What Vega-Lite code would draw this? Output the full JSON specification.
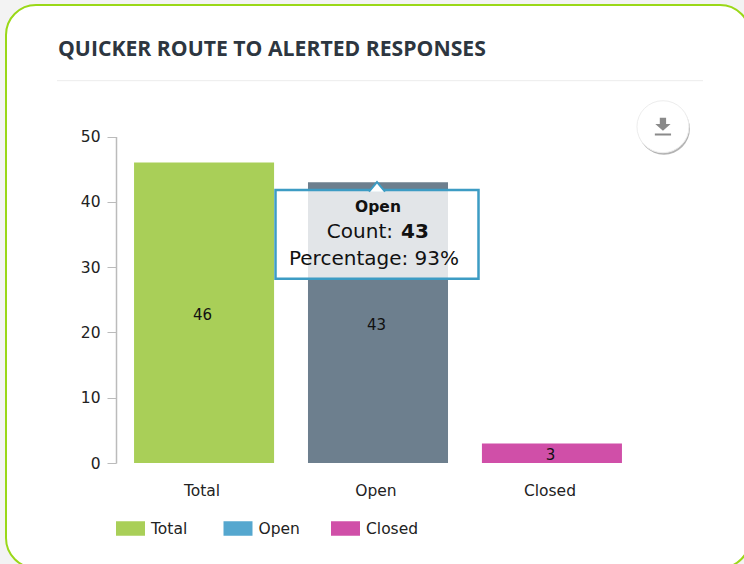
{
"$schema":"https://vega.github.io/schema/vega-lite/v6.json",
"width":744,"height":563,
"autosize":{"type":"none"},
"padding":{"left":6,"top":5,"right":-6,"bottom":-4},
"background":"#f3f3f3",
"view":{"fill":"#ffffff","stroke":"#9ad818","strokeWidth":2,"cornerRadius":30},
"title":{"text":"QUICKER ROUTE TO ALERTED RESPONSES","anchor":"start","frame":"group","font":"Open Sans","fontSize":21.2,"fontWeight":"bold","color":"#2d3640","offset":-55,"dx":52},
"datasets":{
"bars":[{"category":"Total","count":46},{"category":"Open","count":43},{"category":"Closed","count":3}],
"tooltipBox":[{"category":"Open","low":28.2,"high":41.8}],
"tooltipArrow":[{"category":"Open","value":41.8}],
"tooltipTitle":[{"category":"Open","value":39.15,"label":"Open"}],
"tooltipKey":[{"category":"Open","value":35.4,"label":"Count:"}],
"tooltipCount":[{"category":"Open","value":35.4,"label":"43"}],
"tooltipPct":[{"category":"Open","value":31.25,"label":"Percentage: 93%"}],
"separator":[{"from":0,"to":1,"value":58.55}],
"buttonShadow":[{"pos":0.9395,"value":51.2}],
"button":[{"pos":0.938,"value":51.5}]
},
"layer":[
{"data":{"name":"bars"},
 "layer":[
 {"mark":{"type":"bar"},
  "encoding":{
   "x":{"field":"category","type":"nominal","sort":null,
     "scale":{"domain":["Total","Open","Closed"],"range":[111,633],"paddingInner":0.195,"paddingOuter":0.098},
     "axis":{"title":null,"labelAngle":0,"domain":false,"ticks":false,"offset":-105,"labelPadding":20,"labelOffset":-2,"labelFont":"DejaVu Sans","labelFontSize":15.5,"labelColor":"#222222"}},
   "y":{"field":"count","type":"quantitative",
     "scale":{"domain":[0,50],"range":[458,131.5],"nice":false},
     "axis":{"title":null,"grid":false,"values":[0,10,20,30,40,50],"offset":-110,"tickSize":9,"domainColor":"#bbbbbb","tickColor":"#bbbbbb","domainWidth":1.5,"labelFont":"DejaVu Sans","labelFontSize":15.5,"labelColor":"#222222","labelPadding":7}},
   "color":{"condition":{"test":"datum.category==='Open'","value":"#6d7f8e"},
     "field":"category","type":"nominal",
     "scale":{"domain":["Total","Open","Closed"],"range":["#a9cf58","#55a7cf","#d04fa8"]},
     "legend":{"title":null,"orient":"none","legendX":110,"legendY":509,"direction":"horizontal","columns":3,"gridAlign":"all","columnPadding":19.5,"symbolType":"M-1,-0.5H1V0.5H-1Z","symbolSize":841,"symbolStrokeWidth":0,"labelFont":"DejaVu Sans","labelFontSize":15.5,"labelColor":"#222222","labelOffset":6}}
  }},
 {"transform":[{"calculate":"datum.count/2","as":"mid"}],
  "mark":{"type":"text","font":"DejaVu Sans","fontSize":15,"color":"#111111","dx":-1.5,"dy":2},
  "encoding":{
   "x":{"field":"category","type":"nominal","sort":null},
   "y":{"field":"mid","type":"quantitative"},
   "text":{"field":"count","type":"quantitative"}
  }},
 {"data":{"name":"tooltipBox"},
  "mark":{"type":"bar","size":203,"fill":"#ffffff","fillOpacity":0.8,"stroke":"#3d9cc4","strokeWidth":2.5,"xOffset":-1},
  "encoding":{
   "x":{"field":"category","type":"nominal","sort":null},
   "y":{"field":"low","type":"quantitative"},
   "y2":{"field":"high"}
  }},
 {"data":{"name":"tooltipArrow"},
  "mark":{"type":"point","shape":"M-1,0.2L0,-1L1,0.2","size":256,"filled":true,"fill":"#ffffff","stroke":"#3d9cc4","strokeWidth":2,"opacity":1,"xOffset":-1},
  "encoding":{
   "x":{"field":"category","type":"nominal","sort":null},
   "y":{"field":"value","type":"quantitative"}
  }},
 {"data":{"name":"tooltipTitle"},
  "mark":{"type":"text","font":"DejaVu Sans","fontSize":15.5,"fontWeight":"bold","color":"#111111"},
  "encoding":{
   "x":{"field":"category","type":"nominal","sort":null},
   "y":{"field":"value","type":"quantitative"},
   "text":{"field":"label"}
  }},
 {"data":{"name":"tooltipKey"},
  "mark":{"type":"text","font":"DejaVu Sans","fontSize":20,"align":"right","dx":15,"color":"#111111"},
  "encoding":{
   "x":{"field":"category","type":"nominal","sort":null},
   "y":{"field":"value","type":"quantitative"},
   "text":{"field":"label"}
  }},
 {"data":{"name":"tooltipCount"},
  "mark":{"type":"text","font":"DejaVu Sans","fontSize":20,"fontWeight":"bold","align":"left","dx":23,"color":"#111111"},
  "encoding":{
   "x":{"field":"category","type":"nominal","sort":null},
   "y":{"field":"value","type":"quantitative"},
   "text":{"field":"label"}
  }},
 {"data":{"name":"tooltipPct"},
  "mark":{"type":"text","font":"DejaVu Sans","fontSize":20,"dx":-4,"color":"#111111"},
  "encoding":{
   "x":{"field":"category","type":"nominal","sort":null},
   "y":{"field":"value","type":"quantitative"},
   "text":{"field":"label"}
  }}
 ]},
{"layer":[
 {"data":{"name":"separator"},
  "mark":{"type":"rule","color":"#ececec","strokeWidth":1},
  "encoding":{
   "x":{"field":"from","type":"quantitative","scale":{"domain":[0,1],"range":[51,697]},"axis":null},
   "x2":{"field":"to"},
   "y":{"field":"value","type":"quantitative"}
  }},
 {"data":{"name":"buttonShadow"},
  "mark":{"type":"point","shape":"circle","size":2704,"filled":true,"color":"#a0a0a0","opacity":0.8},
  "encoding":{
   "x":{"field":"pos","type":"quantitative"},
   "y":{"field":"value","type":"quantitative"}
  }},
 {"data":{"name":"button"},
  "mark":{"type":"point","shape":"circle","size":2704,"filled":true,"fill":"#ffffff","stroke":"#ededed","strokeWidth":1,"opacity":1},
  "encoding":{
   "x":{"field":"pos","type":"quantitative"},
   "y":{"field":"value","type":"quantitative"}
  }},
 {"data":{"name":"button"},
  "mark":{"type":"point","shape":"M-0.35,-1H0.35V-0.3H0.85L0,0.45L-0.85,-0.3H-0.35ZM-0.9,0.75H0.9V0.97H-0.9Z","size":324,"filled":true,"color":"#8a8a8a","opacity":1},
  "encoding":{
   "x":{"field":"pos","type":"quantitative"},
   "y":{"field":"value","type":"quantitative"}
  }}
]}
],
"resolve":{"scale":{"x":"independent"}},
"config":{"axis":{"labelFontWeight":"normal"}}
}
